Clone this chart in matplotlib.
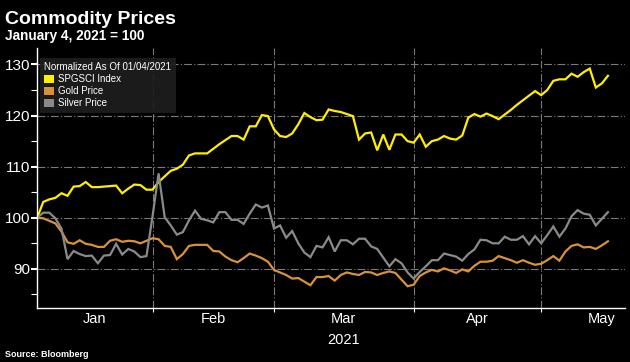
import matplotlib.pyplot as plt
import matplotlib.transforms as mtrans
from matplotlib.patches import Patch
import numpy as np
import pandas as pd

plt.rcParams['font.family'] = ['Liberation Sans', 'DejaVu Sans']

# trading days, normalized to Jan 4 2021 = 100
holidays = ['2021-01-18', '2021-04-02', '2021-05-31']
spgsci = [100.0, 103.1, 103.6, 103.9, 104.8, 104.3, 106.1, 106.2, 107.0, 106.0,
          106.0, 106.1, 106.2, 106.3, 104.8, 105.7, 106.5, 106.4, 105.5, 105.5,
          107.0, 108.1, 109.2, 109.6, 110.4, 112.2, 112.6, 112.6, 112.6, 113.5,
          114.4, 115.2, 116.0, 116.0, 115.3, 117.9, 117.9, 120.1, 119.9, 117.3,
          116.0, 115.8, 116.5, 118.3, 120.5, 119.7, 119.1, 119.2, 121.2, 120.9,
          120.7, 120.3, 119.9, 115.3, 116.5, 116.7, 113.2, 116.3, 113.3, 116.3,
          116.3, 115.0, 114.7, 116.3, 113.9, 115.0, 115.3, 116.0, 115.5, 115.3,
          116.1, 119.6, 120.3, 119.8, 120.4, 119.9, 119.3, 120.2, 121.1, 122.1,
          123.0, 123.9, 124.8, 124.0, 125.0, 126.8, 127.1, 127.1, 128.2, 127.6,
          128.5, 129.2, 125.5, 126.3, 127.8]
gold = [100.0, 99.9, 99.4, 98.9, 97.3, 95.2, 94.9, 95.6, 94.9, 94.7,
        94.3, 94.3, 95.5, 95.8, 95.3, 95.5, 95.4, 95.0, 95.5, 96.0,
        95.8, 94.5, 94.3, 91.9, 92.9, 94.5, 94.7, 94.7, 94.7, 93.5,
        93.4, 92.4, 91.7, 91.3, 92.1, 93.0, 92.6, 92.1, 91.4, 89.8,
        89.3, 88.8, 88.1, 88.2, 87.5, 86.8, 88.4, 88.4, 88.6, 87.7,
        88.8, 89.3, 89.0, 88.8, 89.4, 89.3, 88.8, 89.2, 89.5, 89.2,
        87.9, 86.6, 86.9, 88.6, 89.3, 89.8, 89.5, 90.1, 89.7, 89.2,
        89.9, 89.5, 90.6, 91.4, 91.4, 91.6, 92.5, 92.1, 91.7, 91.2,
        91.7, 91.2, 90.8, 91.0, 91.7, 92.5, 91.6, 93.4, 94.5, 94.8,
        94.2, 94.3, 93.9, 94.6, 95.4]
silver = [100.0, 101.0, 101.0, 99.9, 97.9, 91.9, 93.5, 92.9, 92.5, 92.6,
          91.1, 92.6, 92.7, 94.9, 92.8, 93.9, 93.4, 92.3, 92.5, 100.3,
          108.7, 100.1, 98.5, 96.7, 97.2, 99.5, 101.4, 99.8, 99.5, 99.1,
          101.1, 101.1, 99.6, 99.6, 98.8, 100.8, 102.6, 102.0, 102.4, 97.9,
          98.5, 96.1, 97.4, 95.0, 93.2, 92.3, 94.5, 94.2, 96.2, 93.4,
          95.6, 95.6, 94.8, 95.9, 95.9, 94.4, 93.9, 92.2, 90.5, 91.9,
          91.1, 89.3, 88.1, 89.4, 90.5, 91.7, 91.7, 93.0, 92.7, 92.4,
          91.6, 92.9, 93.8, 95.7, 95.6, 95.0, 95.0, 96.3, 95.7, 95.7,
          96.4, 94.8, 96.4, 95.0, 96.6, 98.3, 96.3, 97.9, 100.3, 101.5,
          100.8, 100.6, 98.5, 99.8, 101.1]
series_names = ['SPGSCI Index', 'Gold Price', 'Silver Price']
colors = ['#FFEE00', '#D9923A', '#8A8A8A']

cal = pd.bdate_range('2021-01-04', '2021-05-31', freq='C', holidays=holidays)
x = np.arange(len(spgsci))

bounds = [0] + [i for i in range(1, len(cal)) if cal[i].month != cal[i - 1].month] + [len(cal)]
month_starts = bounds[1:-1]
mids = [(a + b) / 2 for a, b in zip(bounds[:-1], bounds[1:])]
month_names = [cal[b].strftime('%b') for b in bounds[:-1]]

fig = plt.figure(figsize=(6.3, 3.62), dpi=100, facecolor='black')
ax = fig.add_axes([0.059, 0.15, 0.933, 0.717])
ax.set_facecolor('black')

for vals, name, c in zip([spgsci, gold, silver], series_names, colors):
    ax.plot(x, vals, color=c, lw=1.6, label=name, solid_joinstyle='miter')

ax.set_xlim(0, 96.8)
ax.set_ylim(82.4, 133.2)

ax.set_yticks([90, 100, 110, 120, 130])
ax.set_yticks([85, 95, 105, 115, 125], minor=True)
ax.set_xticks(month_starts)
ax.set_xticklabels([])
ax.set_xticks(mids, minor=True)
ax.set_xticklabels(month_names, minor=True)

ax.grid(True, which='major', color='#7a7a7a', lw=0.8, linestyle=(0, (7, 2, 1, 2)))
ax.set_axisbelow(True)

for s in ['top', 'right']:
    ax.spines[s].set_visible(False)
for s in ['left', 'bottom']:
    ax.spines[s].set_color('white')
    ax.spines[s].set_linewidth(1.0)

ax.tick_params(axis='y', which='major', colors='white', labelsize=11, length=4, width=1.5, pad=1)
ax.tick_params(axis='y', which='minor', colors='white', length=4, width=0.8)
ax.tick_params(axis='x', which='major', colors='white', length=3, width=0.8)
ax.tick_params(axis='x', which='minor', colors='white', length=0, labelsize=10.5, pad=3)

trans = mtrans.blended_transform_factory(ax.transData, fig.transFigure)
ax.text(mids[2], 1 - 344 / 362, '2021', transform=trans, ha='center', va='baseline',
        color='white', fontsize=10.5)

handles = [Patch(facecolor=c, edgecolor='none') for c in colors]
leg = ax.legend(handles, series_names, loc='upper left', bbox_to_anchor=(0.005, 0.962),
                borderaxespad=0, title='Normalized As Of 01/04/2021', alignment='left',
                facecolor='#1e1e1e', edgecolor='none', framealpha=0.92, fancybox=False,
                fontsize=7, title_fontsize=7, labelcolor='white',
                handlelength=1.0, handleheight=1.0, handletextpad=0.4,
                labelspacing=0.2, borderpad=0.45)
leg.get_title().set_color('white')

fig.text(0.008, 1 - 23.5 / 362, 'Commodity Prices', color='white', fontsize=14,
         weight='bold', va='baseline')
fig.text(0.008, 1 - 40 / 362, 'January 4, 2021 = 100', color='white', fontsize=9.8,
         weight='bold', va='baseline')
fig.text(0.008, 1 - 357 / 362, 'Source: Bloomberg', color='white', fontsize=6.5,
         weight='bold', va='baseline')

fig.savefig('out.png', dpi=100, facecolor='black')
